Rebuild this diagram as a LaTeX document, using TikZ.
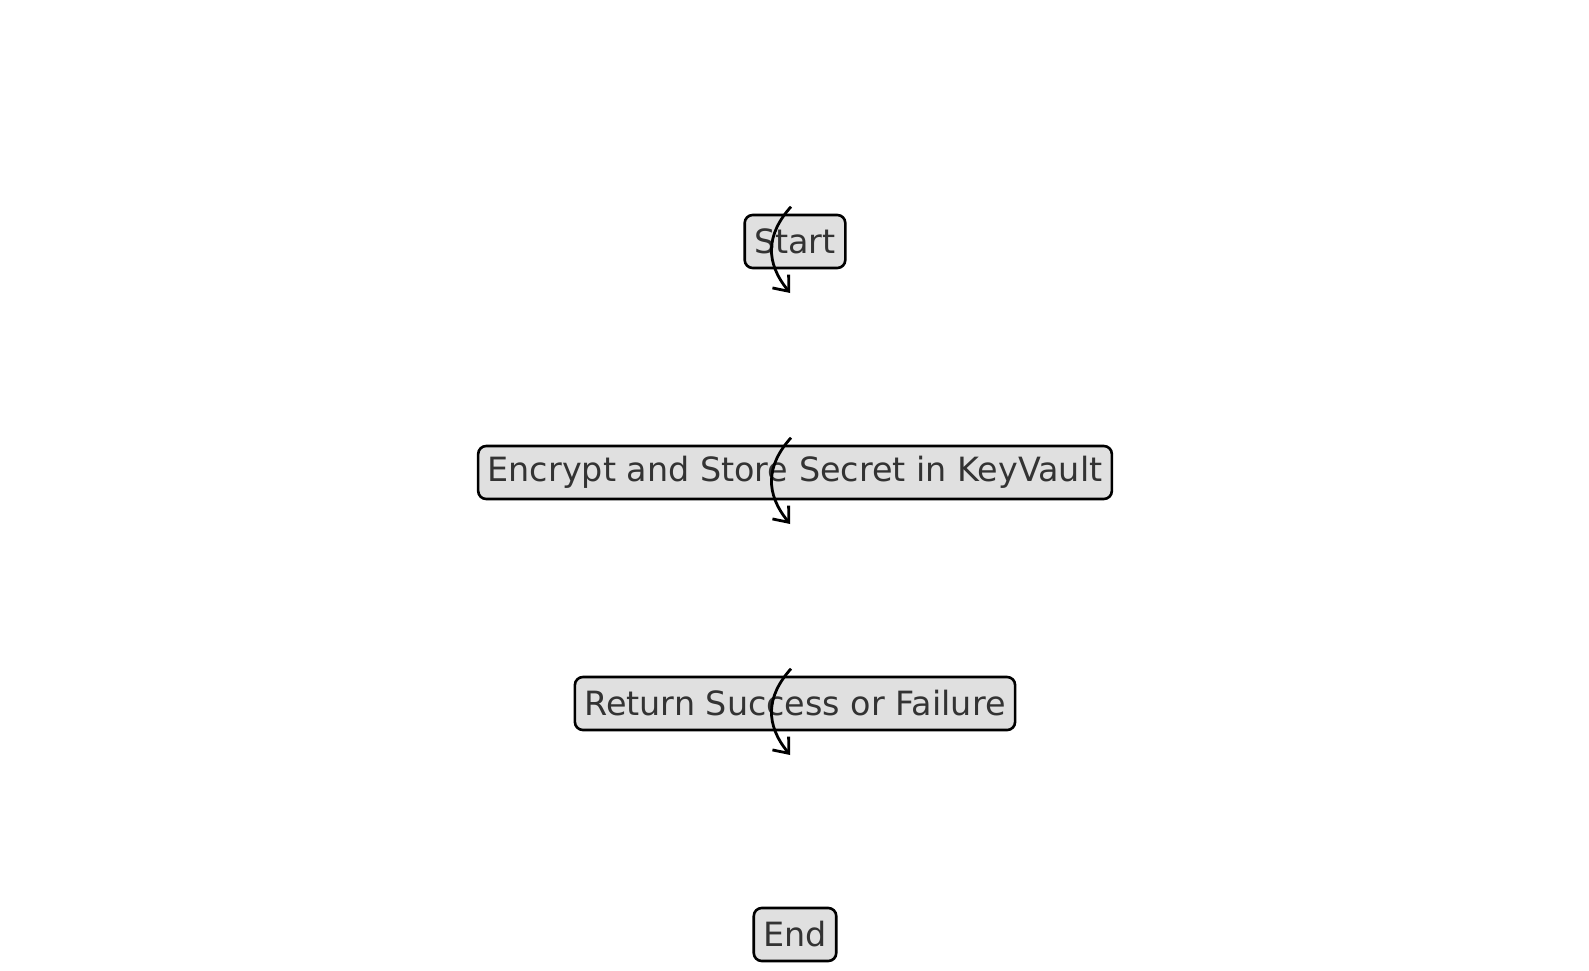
\documentclass[tikz,border=0pt]{standalone}
\usepackage{fontspec}
\setmainfont{DejaVu Sans}
\usetikzlibrary{arrows.meta,calc}
\definecolor{boxfill}{HTML}{E0E0E0}
\definecolor{boxtext}{HTML}{333333}
\tikzset{
  stepbox/.style={draw=black, line width=2.6pt, fill=boxfill, rounded corners=8pt,
    text=boxtext, font=\fontsize{33.4}{40}\selectfont, minimum height=53pt,
    inner xsep=9.5pt, inner ysep=0pt, anchor=center},
  flowarrow/.style={draw=black, line width=2.8pt,
    -{Straight Barb[length=13pt,width=21pt,line width=2.8pt]}}
}
\begin{document}
\begin{tikzpicture}[x=1pt,y=1pt]
\useasboundingbox[fill=white] (0,0) rectangle (1589,-971);
\node[stepbox] (start) at (795,-241.5) {Start};
\node[stepbox] (encrypt) at (795,-472.5) {Encrypt and Store Secret in KeyVault};
\node[stepbox] (ret) at (795,-703.5) {Return Success or Failure};
\node[stepbox] (end) at (795,-934.5) {End};
\foreach \n in {start,encrypt,ret}{
  \coordinate (\n-a) at ($(\n.center)+(-4,34.8)$);
  \coordinate (\n-b) at ($(\n.center)+(-4.8,-51.5)$);
  \draw[flowarrow] (\n-a) .. controls ($(\n.center)+(-29.2,6.8)$) and ($(\n.center)+(-29.8,-21.2)$) .. (\n-b);
}
\end{tikzpicture}
\end{document}
